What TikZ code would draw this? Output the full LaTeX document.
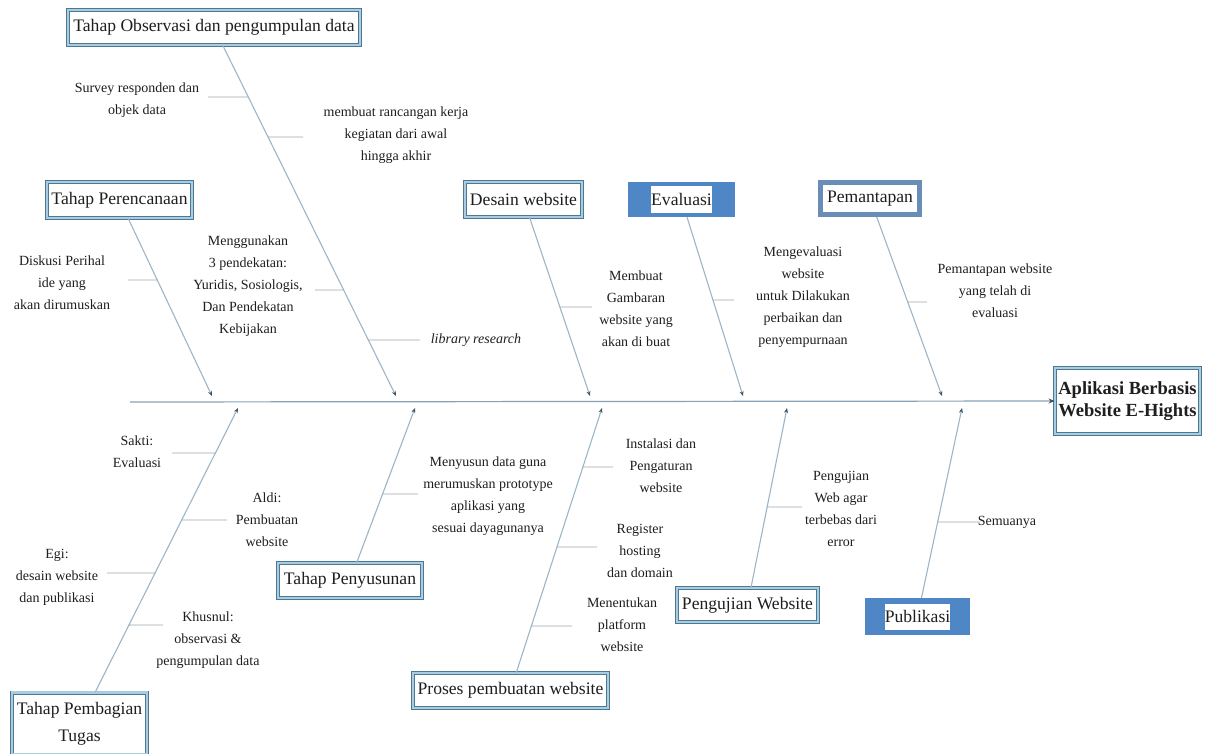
\documentclass[tikz,border=0pt]{standalone}
\usepackage{fontspec}
\setmainfont{Liberation Serif}
\usetikzlibrary{arrows.meta}
\definecolor{bonec}{HTML}{9CB6C8}
\definecolor{spinec}{HTML}{8AA2B4}
\definecolor{twigc}{HTML}{A0A8B0}
\definecolor{tipc}{HTML}{44525C}
\definecolor{framed}{HTML}{4E7891}
\definecolor{framel}{HTML}{A8CCE2}
\definecolor{fillb}{HTML}{4F86C6}
\definecolor{pemc}{HTML}{6A8DB8}
\definecolor{txt}{HTML}{1E1E1E}
\tikzset{
  cbox/.style={draw=framed, double=framel, double distance=2.2pt, line width=0.9pt,
    fill=white, inner sep=0pt, font=\fontsize{17.6}{19}\selectfont, text=txt, align=center},
  fbox/.style={fill=fillb, inner sep=0pt},
  wlabel/.style={fill=white, inner sep=0pt, font=\fontsize{17.6}{19}\selectfont, text=txt},
  pbox/.style={draw=pemc, line width=5pt, fill=white, inner sep=0pt,
    font=\fontsize{17.6}{19}\selectfont, text=txt},
  lbl/.style={align=center, font=\fontsize{14}{22}\selectfont, text=txt, inner sep=1pt},
  bone/.style={draw=bonec, line width=1.1pt, -{Stealth[length=5pt,width=4pt,color=tipc]}},
  spine/.style={draw=spinec, line width=1.2pt, -{Stealth[length=6pt,width=5pt,color=tipc]}},
  twig/.style={draw=twigc, line width=0.9pt}
}
\begin{document}
\begin{tikzpicture}[x=1pt,y=-1pt]
\useasboundingbox (0,0) rectangle (1210,754);
\fill[white] (0,0) rectangle (1210,754);

% ---- boxes ----
\node[cbox, minimum width=292, minimum height=35] (obs) at (214,27.5) {Tahap Observasi dan pengumpulan data};
\node[cbox, minimum width=145, minimum height=36] (per) at (119.5,200) {Tahap Perencanaan};
\node[cbox, minimum width=117, minimum height=35] (des) at (523.5,199.5) {Desain website};
\node[fbox, minimum width=107, minimum height=35] (eva) at (681.5,199.5) {};
\node[wlabel, minimum width=60, minimum height=27] (evat) at (eva.center) {Evaluasi};
\node[pbox, minimum width=99, minimum height=32] (pem) at (870,198.5) {Pemantapan};
\node[cbox, minimum width=145, minimum height=66, font=\fontsize{18.5}{22}\selectfont\bfseries] (head) at (1127.5,401) {Aplikasi Berbasis\\Website E-Hights};
\node[cbox, minimum width=135, minimum height=62, font=\fontsize{17.6}{27}\selectfont] (tug) at (79.5,723.5) {Tahap Pembagian\\Tugas};
\node[cbox, minimum width=144, minimum height=35] (pen) at (350,580.5) {Tahap Penyusunan};
\node[cbox, minimum width=195, minimum height=35] (pro) at (510.5,690.5) {Proses pembuatan website};
\node[cbox, minimum width=141, minimum height=34] (uji) at (747.5,605) {Pengujian Website};
\node[fbox, minimum width=105, minimum height=37] (pub) at (917.5,616.5) {};
\node[wlabel, minimum width=65, minimum height=26] (pubt) at (pub.center) {Publikasi};

% ---- spine ----
\coordinate (spineS) at (130,402);
\draw[spine] (spineS) -- (head.west);

% ---- bones ----
\coordinate (obsE) at (396,396);
\coordinate (perE) at (212,396);
\coordinate (desE) at (590,396);
\coordinate (evaE) at (743,396);
\coordinate (pemE) at (942,396);
\coordinate (tugE) at (238,408);
\coordinate (penE) at (415,408);
\coordinate (proE) at (602,408);
\coordinate (ujiE) at (787,408);
\coordinate (pubE) at (962,408);
\draw[bone] (obs) -- (obsE);
\draw[bone] (per) -- (perE);
\draw[bone] (des) -- (desE);
\draw[bone] (eva) -- (evaE);
\draw[bone] (pem) -- (pemE);
\draw[bone] (tug) -- (tugE);
\draw[bone] (pen) -- (penE);
\draw[bone] (pro) -- (proE);
\draw[bone] (uji) -- (ujiE);
\draw[bone] (pub) -- (pubE);

% ---- labels ----
\node[lbl] (l1) at (137,100) {Survey responden dan\\objek data};
\node[lbl] (l2) at (396,135) {membuat rancangan kerja\\kegiatan dari awal\\hingga akhir};
\node[lbl] (l3) at (62,283) {Diskusi Perihal\\ide yang\\akan dirumuskan};
\node[lbl] (l4) at (248,286) {Menggunakan\\3 pendekatan:\\Yuridis, Sosiologis,\\Dan Pendekatan\\Kebijakan};
\node[lbl] (l5) at (476,340) {\itshape library research};
\node[lbl] (l6) at (636,308.5) {Membuat\\Gambaran\\website yang\\akan di buat};
\node[lbl] (l7) at (803,297) {Mengevaluasi\\website\\untuk Dilakukan\\perbaikan dan\\penyempurnaan};
\node[lbl] (l8) at (995,291) {Pemantapan website\\yang telah di\\evaluasi};
\node[lbl] (l9) at (137,452) {Sakti:\\Evaluasi};
\node[lbl] (l10) at (267,520) {Aldi:\\Pembuatan\\website};
\node[lbl] (l11) at (57,577) {Egi:\\desain website\\dan publikasi};
\node[lbl] (l12) at (208,640) {Khusnul:\\observasi \&\\pengumpulan data};
\node[lbl] (l13) at (488,496) {Menyusun data guna\\merumuskan prototype\\aplikasi yang\\sesuai dayagunanya};
\node[lbl] (l14) at (661,466) {Instalasi dan\\Pengaturan\\website};
\node[lbl] (l15) at (640,551) {Register\\hosting\\dan domain};
\node[lbl] (l16) at (622,625) {Menentukan\\platform\\website};
\node[lbl] (l17) at (841,509) {Pengujian\\Web agar\\terbebas dari\\error};
\node[lbl] (l18) at (1007,522) {Semuanya};

% ---- twigs ----
\coordinate (f1) at (208,97);   \coordinate (b1) at (intersection of obs.center--obsE and 0,97--1210,97);
\coordinate (f2) at (303,137);  \coordinate (b2) at (intersection of obs.center--obsE and 0,137--1210,137);
\coordinate (f3) at (128,280);  \coordinate (b3) at (intersection of per.center--perE and 0,280--1210,280);
\coordinate (f4) at (315,290);  \coordinate (b4) at (intersection of obs.center--obsE and 0,290--1210,290);
\coordinate (f5) at (420,340);  \coordinate (b5) at (intersection of obs.center--obsE and 0,340--1210,340);
\coordinate (f6) at (592,307);  \coordinate (b6) at (intersection of des.center--desE and 0,307--1210,307);
\coordinate (f7) at (734,300);  \coordinate (b7) at (intersection of eva.center--evaE and 0,300--1210,300);
\coordinate (f8) at (927,302);  \coordinate (b8) at (intersection of pem.center--pemE and 0,302--1210,302);
\coordinate (f9) at (172,453);  \coordinate (b9) at (intersection of tug.center--tugE and 0,453--1210,453);
\coordinate (f10) at (227,520); \coordinate (b10) at (intersection of tug.center--tugE and 0,520--1210,520);
\coordinate (f11) at (107,573); \coordinate (b11) at (intersection of tug.center--tugE and 0,573--1210,573);
\coordinate (f12) at (163,625); \coordinate (b12) at (intersection of tug.center--tugE and 0,625--1210,625);
\coordinate (f13) at (418,494); \coordinate (b13) at (intersection of pen.center--penE and 0,494--1210,494);
\coordinate (f14) at (613,467); \coordinate (b14) at (intersection of pro.center--proE and 0,467--1210,467);
\coordinate (f15) at (597,547); \coordinate (b15) at (intersection of pro.center--proE and 0,547--1210,547);
\coordinate (f16) at (572,626); \coordinate (b16) at (intersection of pro.center--proE and 0,626--1210,626);
\coordinate (f17) at (802,507); \coordinate (b17) at (intersection of uji.center--ujiE and 0,507--1210,507);
\coordinate (f18) at (980,522); \coordinate (b18) at (intersection of pub.center--pubE and 0,522--1210,522);
\foreach \i in {1,...,18} { \draw[twig] (f\i) -- (b\i); }
\end{tikzpicture}
\end{document}
